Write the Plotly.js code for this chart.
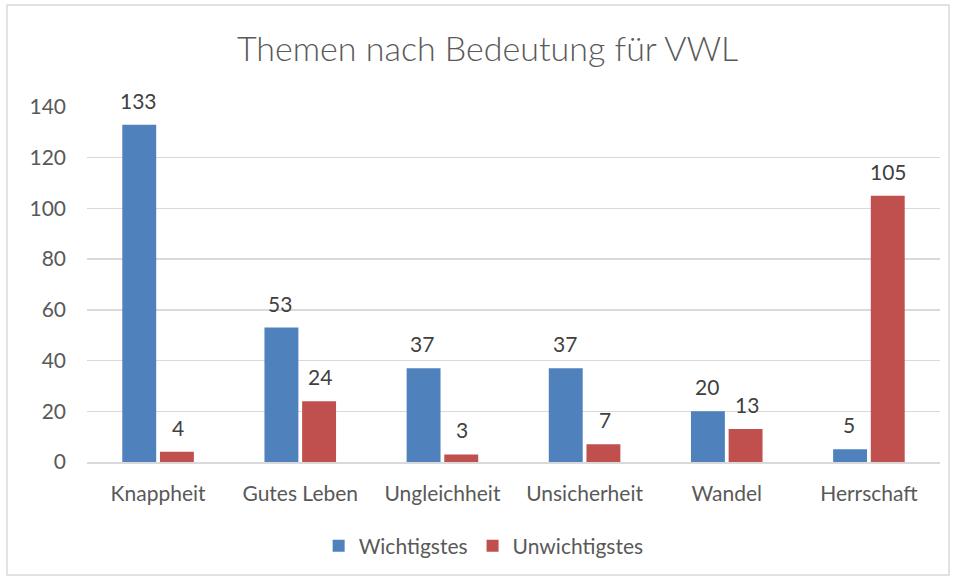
<!DOCTYPE html>
<html>
<head>
<meta charset="utf-8">
<script src="https://cdn.plot.ly/plotly-3.0.1.min.js"></script>
<style>html,body{margin:0;padding:0;background:#fff;}#chart{width:956px;height:579px;}</style>
</head>
<body>
<div id="chart"></div>
<script>
const categories = ["Knappheit", "Gutes Leben", "Ungleichheit", "Unsicherheit", "Wandel", "Herrschaft"];
const wichtigstes = [133, 53, 37, 37, 20, 5];
const unwichtigstes = [4, 24, 3, 7, 13, 105];
const yTicks = [0, 20, 40, 60, 80, 100, 120, 140];

const FONT = "Lato, 'Open Sans', sans-serif";
const TXT = "#595959";
const LBL = "#404040";

const traces = [
  {type: "bar", name: "Wichtigstes", x: categories, y: wichtigstes, marker: {color: "#4F81BD"}},
  {type: "bar", name: "Unwichtigstes", x: categories, y: unwichtigstes, marker: {color: "#C0504D"}}
];

function labels(vals, shift) {
  return vals.map((v, i) => ({
    x: categories[i], y: v, xref: "x", yref: "y", text: String(v), showarrow: false,
    xanchor: "center", yanchor: "bottom", xshift: shift, yshift: 10,
    font: {family: FONT, size: 21, color: LBL}
  }));
}

const layout = {
  width: 956, height: 579,
  margin: {l: 87, r: 16, t: 107, b: 117},
  paper_bgcolor: "#fff", plot_bgcolor: "#fff",
  font: {family: FONT, color: TXT, size: 21},
  title: {text: "Themen nach Bedeutung für VWL", font: {family: FONT, size: 34, color: TXT, weight: 300},
          x: 0.51, xref: "container", xanchor: "center", y: 0.915, yref: "container", yanchor: "middle"},
  barmode: "group", bargap: 0.47, bargroupgap: 0.1,
  xaxis: {showgrid: false, showline: true, linecolor: "#d9d9d9", linewidth: 2, ticks: "",
          tickfont: {family: FONT, size: 21, color: TXT}, ticklabelstandoff: 12},
  yaxis: {range: [0, 140], tickvals: yTicks, showgrid: true, gridcolor: "#d9d9d9", gridwidth: 1.3,
          zeroline: false, showline: false, ticks: "", tickfont: {family: FONT, size: 21, color: TXT},
          ticklabelstandoff: 20},
  showlegend: true,
  legend: {orientation: "h", x: 0.465, xanchor: "center", y: -0.237, yanchor: "middle",
           font: {family: FONT, size: 21, color: TXT}, itemwidth: 30, tracegroupgap: 0},
  annotations: labels(wichtigstes, -20).concat(labels(unwichtigstes, 20)),
  shapes: [{type: "rect", xref: "paper", yref: "paper", x0: -0.0938, x1: 1.0106, y0: -0.318, y1: 1.287,
            line: {color: "#d9d9d9", width: 1.5}, fillcolor: "rgba(0,0,0,0)", layer: "below"}]
};

Plotly.newPlot("chart", traces, layout, {displayModeBar: false, staticPlot: true});
</script>
</body>
</html>
